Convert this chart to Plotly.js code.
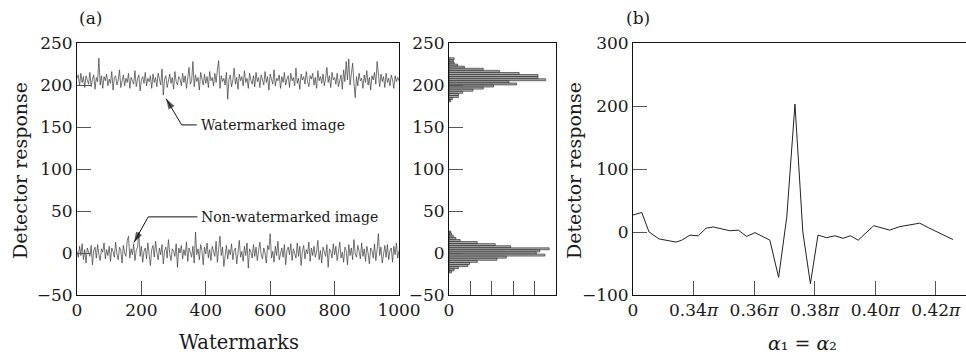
<!DOCTYPE html>
<html>
<head>
<meta charset="utf-8">
<script src="https://cdn.plot.ly/plotly-3.0.1.min.js"></script>
<style>html,body{margin:0;padding:0;background:#fff;}#chart{width:966px;height:356px;}</style>
</head>
<body>
<div id="chart"></div>
<script>
// ---- Panel (a): detector response for 1000 watermarks (sampled every 4th watermark) ----
const watermarkStep = 4;
const watermarkedResp = [
208,212,199,214,203,210,197,211,206,201,215,198,207,212,195,209,204,232,200,211,
196,210,205,213,199,207,202,216,194,209,211,200,206,218,197,204,212,199,208,203,
214,196,209,205,201,217,198,207,212,193,206,210,202,215,199,208,204,211,196,213,
203,209,198,214,205,200,219,188,207,211,197,206,213,202,209,195,216,204,200,210,
207,199,214,203,211,196,208,221,201,205,228,198,212,204,209,194,215,206,200,213,
202,210,197,216,205,209,199,214,203,218,229,196,211,204,208,200,215,183,207,212,
198,206,220,201,209,195,213,205,210,199,217,203,208,196,214,206,201,211,198,215,
204,209,197,212,207,200,216,203,210,194,213,206,201,218,199,208,205,212,196,210,
203,215,200,207,211,197,214,205,209,199,220,202,208,195,213,206,210,201,216,204,
198,211,207,214,200,209,196,217,205,210,202,213,199,208,221,203,211,197,215,206,
209,201,214,198,207,212,195,218,204,228,206,231,200,213,226,203,185,210,199,214,
205,208,196,212,203,217,200,209,194,211,206,215,201,228,207,198,213,204,210,197,
214,203,208,199,212,206,196,211,204,209,205];
const nonWatermarkedResp = [
2,-5,8,-3,11,-8,4,-12,6,0,-4,9,-14,3,7,-6,10,-2,-9,5,
1,12,-7,4,-3,8,-10,6,2,-5,13,-1,-8,7,3,-12,9,0,-4,15,
20,-6,5,-2,11,-9,3,7,25,-4,8,-11,2,6,-7,12,-3,-15,4,9,
-5,14,1,-8,6,-2,10,-13,3,7,-6,16,-1,-9,5,2,-4,11,-17,6,
0,9,-7,4,-3,13,-10,6,1,-5,8,-12,25,-2,5,-8,10,3,-14,7,
-1,12,-6,4,-9,8,2,-4,14,-11,5,20,-3,7,-16,1,9,-7,4,-2,
11,-8,3,6,-13,0,15,-5,2,-10,8,-3,12,-18,5,1,-6,10,-4,7,
-9,3,13,-2,-7,6,0,-12,9,4,23,-6,2,-11,8,-3,14,-8,1,6,
-5,10,-14,3,7,-2,11,-9,5,0,-6,12,-4,8,-15,2,9,-7,4,-1,
13,-10,6,-3,8,-5,1,15,-8,3,-12,7,0,-4,10,-17,5,2,-6,11,
-2,8,-9,4,13,-6,1,-11,7,3,-14,10,-3,6,-8,16,-1,-5,9,2,
-7,12,-4,5,-10,8,0,-13,6,3,-6,11,-9,4,23,-3,7,-12,2,9,
-5,10,-8,3,6,-11,8,-2,12,-6,3];

// ---- Histogram of responses (bin centres, counts) ----
const histBinsW = [231.25,228.75,226.25,223.75,221.25,218.75,216.25,213.75,211.25,208.75,206.25,203.75,201.25,198.75,196.25,193.75,191.25,188.75,186.25,183.75,181.25];
const histCountsW = [6,5,6,10,18,40,59,82,104,104,113,70,79,52,40,28,16,11,11,4,2];
const histBinsN = [25,22.5,20,17.5,15,12.5,10,7.5,5,2.5,0,-2.5,-5,-7.5,-10,-12.5,-15,-17.5,-20,-22.5];
const histCountsN = [2,3,5,8,13,33,54,72,117,106,102,112,67,56,33,24,22,11,6,3];
const histMinorTicks = [25,50,75,100];

// ---- Panel (b): detector response vs rotation angle (in units of pi) ----
const alphaPi = [0.32,0.3229,0.3253,0.3286,0.3342,0.3361,0.3388,0.3416,0.3441,0.3465,0.352,0.3548,0.3575,0.3603,0.3652,0.3681,0.3708,0.3735,0.3761,0.3786,0.3811,0.3839,0.3867,0.3894,0.3918,0.3944,0.3995,0.4048,0.4081,0.4147,0.4175,0.4257];
const alphaResp = [27,31,0,-11,-16,-13,-5,-6,6,8,2,3,-7,-1,-13,-72,24,203,0,-82,-5,-9,-6,-10,-6,-13,10,3,8.5,14,7,-12];
const alphaTicks = [0.32,0.34,0.36,0.38,0.40,0.42];
const alphaTickText = ['0','0.34<i>π</i>','0.36<i>π</i>','0.38<i>π</i>','0.40<i>π</i>','0.42<i>π</i>'];

// ---- Callout leader lines (text end -> bend -> arrow tip), in panel (a) data units ----
const leaderWmX = [372, 325, 277];
const leaderWmY = [152.5, 152.5, 183.5];
const leaderNwX = [374, 221, 177];
const leaderNwY = [43, 43, 12.5];

const watermarkIdx = watermarkedResp.map((_, i) => i * watermarkStep);

const FONT = 'DejaVu Serif, Liberation Serif, serif';
const TXT = '#1a1a1a';
const W = 966, H = 356, T = 43, B = 61;
const px = v => v / W;                  // pixel x -> paper
const py = v => (H - B - v) / (H - T - B); // pixel y -> paper

const lineStyle = {color: '#3a3a3a', width: 0.7};
const barStyle = {color: '#b0b0b0', line: {color: '#1a1a1a', width: 0.6}};
const leaderMarker = {symbol: ['circle', 'circle', 'arrow'], size: [0, 0, 11], angleref: 'previous', color: '#111', line: {width: 0}};

const traces = [
  {type: 'scatter', mode: 'lines', x: watermarkIdx, y: watermarkedResp, line: lineStyle, xaxis: 'x', yaxis: 'y', hoverinfo: 'skip'},
  {type: 'scatter', mode: 'lines', x: watermarkIdx, y: nonWatermarkedResp, line: lineStyle, xaxis: 'x', yaxis: 'y', hoverinfo: 'skip'},
  {type: 'scatter', mode: 'lines+markers', x: leaderWmX, y: leaderWmY, line: {color: '#111', width: 1}, marker: leaderMarker, xaxis: 'x', yaxis: 'y', hoverinfo: 'skip'},
  {type: 'scatter', mode: 'lines+markers', x: leaderNwX, y: leaderNwY, line: {color: '#111', width: 1}, marker: leaderMarker, xaxis: 'x', yaxis: 'y', hoverinfo: 'skip'},
  {type: 'bar', orientation: 'h', x: histCountsW, y: histBinsW, width: 2.3, marker: barStyle, xaxis: 'x2', yaxis: 'y2'},
  {type: 'bar', orientation: 'h', x: histCountsN, y: histBinsN, width: 2.3, marker: barStyle, xaxis: 'x2', yaxis: 'y2'},
  {type: 'scatter', mode: 'lines', x: alphaPi, y: alphaResp, line: {color: '#222', width: 1}, xaxis: 'x3', yaxis: 'y3'}
];

const axBase = {
  showgrid: false, zeroline: false, showline: true, linecolor: '#111', linewidth: 1,
  ticks: 'inside', ticklen: 14, tickwidth: 1, tickcolor: '#555',
  tickfont: {family: FONT, size: 17, color: TXT}, fixedrange: true
};

const layout = {
  width: W, height: H,
  margin: {l: 0, r: 0, t: T, b: B},
  paper_bgcolor: '#fff', plot_bgcolor: '#fff',
  showlegend: false, barmode: 'overlay',
  font: {family: FONT, color: TXT},
  xaxis: Object.assign({}, axBase, {domain: [px(77), px(399)], range: [0, 1000], tickvals: [0,200,400,600,800,1000], mirror: true, anchor: 'y'}),
  yaxis: Object.assign({}, axBase, {domain: [0, 1], range: [-50, 250], tickvals: [-50,0,50,100,150,200,250], mirror: true, anchor: 'x'}),
  xaxis2: Object.assign({}, axBase, {domain: [px(449), px(556)], range: [0, 125], tickvals: [0], ticktext: ['0'], mirror: true, anchor: 'y2',
    minor: {tickmode: 'array', tickvals: histMinorTicks, ticks: 'inside', ticklen: 14, tickwidth: 1, tickcolor: '#555', showgrid: false}}),
  yaxis2: Object.assign({}, axBase, {domain: [0, 1], range: [-50, 250], tickvals: [-50,0,50,100,150,200,250], mirror: true, anchor: 'x2'}),
  xaxis3: Object.assign({}, axBase, {domain: [px(633), 1], range: [0.32, 0.43], tickvals: alphaTicks, ticktext: alphaTickText, mirror: true, anchor: 'y3'}),
  yaxis3: Object.assign({}, axBase, {domain: [0, 1], range: [-100, 300], tickvals: [-100,0,100,200,300], mirror: false, anchor: 'x3'}),
  annotations: [
    {xref: 'x', yref: 'y', x: 380, y: 152.5, xanchor: 'left', yanchor: 'middle', text: 'Watermarked image', showarrow: false, font: {family: FONT, size: 14, color: TXT}},
    {xref: 'x', yref: 'y', x: 380, y: 43, xanchor: 'left', yanchor: 'middle', text: 'Non-watermarked image', showarrow: false, font: {family: FONT, size: 14, color: TXT}},
    {xref: 'paper', yref: 'paper', x: px(77), y: py(18), xanchor: 'left', yanchor: 'middle', text: '(a)', showarrow: false, font: {family: FONT, size: 17, color: TXT}},
    {xref: 'paper', yref: 'paper', x: px(624), y: py(18), xanchor: 'left', yanchor: 'middle', text: '(b)', showarrow: false, font: {family: FONT, size: 17, color: TXT}},
    {xref: 'paper', yref: 'paper', x: px(20), y: py(171), xanchor: 'center', yanchor: 'middle', textangle: -90, text: 'Detector response', showarrow: false, font: {family: FONT, size: 19, color: TXT}},
    {xref: 'paper', yref: 'paper', x: px(574), y: py(171), xanchor: 'center', yanchor: 'middle', textangle: -90, text: 'Detector response', showarrow: false, font: {family: FONT, size: 19, color: TXT}},
    {xref: 'paper', yref: 'paper', x: px(239), y: py(342), xanchor: 'center', yanchor: 'middle', text: 'Watermarks', showarrow: false, font: {family: FONT, size: 19.5, color: TXT}},
    {xref: 'paper', yref: 'paper', x: px(802), y: py(343), xanchor: 'center', yanchor: 'middle', text: '<i>α</i>₁ = <i>α</i>₂', showarrow: false, font: {family: FONT, size: 19, color: TXT}}
  ]
};

Plotly.newPlot('chart', traces, layout, {displayModeBar: false, staticPlot: true});
</script>
</body>
</html>
